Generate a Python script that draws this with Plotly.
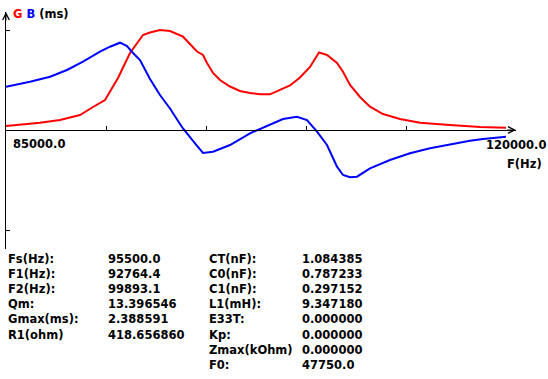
import plotly.graph_objects as go

# ---------------- data ----------------
G_FREQ_HZ = [85000, 85770, 87380, 88780, 90180, 91090, 91930, 92840, 93680, 94590,
             95080, 95780, 96480, 97390, 98090, 98370, 98790, 99070, 99490, 99980,
             100680, 101380, 102080, 102780, 103480, 104180, 104880, 105580, 106280, 106910,
             107470, 108170, 108590, 109080, 109780, 110480, 111390, 112580, 113980, 116080,
             118180, 120000]
G_MS = [0.0955, 0.1194, 0.1744, 0.2389, 0.3583, 0.5494, 0.7166, 1.2421, 1.8392, 2.2692,
        2.3289, 2.3886, 2.3647, 2.2286, 1.9586, 1.8750, 1.7914, 1.6004, 1.3615, 1.1943,
        1.0390, 0.9316, 0.8838, 0.8527, 0.8527, 0.9554, 1.0629, 1.2540, 1.5048, 1.8512,
        1.7914, 1.6004, 1.3926, 1.0749, 0.7882, 0.5565, 0.3822, 0.2627, 0.1744, 0.1194,
        0.0717, 0.0549]

B_FREQ_HZ = [85000, 86680, 88080, 89270, 90390, 91580, 92280, 92980, 93470, 93890,
             94380, 95080, 95780, 96480, 97180, 97390, 98230, 98790, 99490, 100680,
             102080, 103480, 104390, 105370, 106070, 106770, 107470, 107890, 108170, 108590,
             109080, 109570, 110480, 111880, 113280, 114680, 116080, 117480, 118390, 120000]
B_MS = [1.0343, 1.1537, 1.2731, 1.4332, 1.6314, 1.8703, 1.9897, 2.0852, 2.0064, 1.8392,
        1.6720, 1.2182, 0.8360, 0.5135, 0.1433, 0.0358, -0.3177, -0.5494, -0.5183, -0.3583,
        -0.0788, 0.1194, 0.2627, 0.3177, 0.2389, -0.0406, -0.3583, -0.6688, -0.8766, -1.0749,
        -1.1298, -1.1155, -0.9148, -0.7166, -0.5565, -0.4371, -0.3416, -0.2556, -0.2150, -0.1600]

X_TICKS_HZ = [92000, 99000, 106000, 113000]
X_MIN_LABEL = "85000.0"
X_MAX_LABEL = "120000.0"
X_TITLE = "F(Hz)"
GMAX = 2.388591

LEFT_LABELS = ["Fs(Hz):", "F1(Hz):", "F2(Hz):", "Qm:", "Gmax(ms):", "R1(ohm)"]
LEFT_VALUES = ["95500.0", "92764.4", "99893.1", "13.396546", "2.388591", "418.656860"]
RIGHT_LABELS = ["CT(nF):", "C0(nF):", "C1(nF):", "L1(mH):", "E33T:", "Kp:", "Zmax(kOhm)", "F0:"]
RIGHT_VALUES = ["1.084385", "0.787233", "0.297152", "9.347180", "0.000000", "0.000000",
                "0.000000", "47750.0"]

# ---------------- layout geometry ----------------
W, H = 548, 379
ML, MR, MT, MB = 6, 32, 12, 130
PW = W - ML - MR
PH = H - MT - MB
X0, X1 = 85000, 120700
AXIS_PY = 130  # pixel row of zero line
PX_PER_G = 100 / GMAX
Y_TOP = (AXIS_PY - MT) / PX_PER_G
Y_BOT = -((H - MB) - AXIS_PY) / PX_PER_G

FONT = "DejaVu Sans"
FS = 11.5


def px(xp):
    return (xp - ML) / PW


def py(yp):
    return ((H - MB) - yp) / PH


fig = go.Figure()
fig.add_trace(go.Scatter(x=G_FREQ_HZ, y=G_MS, mode="lines",
                         line=dict(color="#ff0000", width=2), name="G", cliponaxis=False))
fig.add_trace(go.Scatter(x=B_FREQ_HZ, y=B_MS, mode="lines",
                         line=dict(color="#0000ff", width=2), name="B", cliponaxis=False))

ann = []
tf = dict(family=FONT, size=FS, color="black", weight="bold")

# title of y axis
ann.append(dict(xref="paper", yref="paper", x=px(11), y=py(14), xanchor="left", yanchor="middle",
                text="<span style='color:#ff0000'>G</span> <span style='color:#0000ff'>B</span> (ms)",
                showarrow=False, font=tf))
# x labels
ann.append(dict(xref="paper", yref="paper", x=px(11), y=py(144), xanchor="left", yanchor="middle",
                text=X_MIN_LABEL, showarrow=False, font=tf))
ann.append(dict(xref="paper", yref="paper", x=px(548), y=py(145), xanchor="right", yanchor="middle",
                text=X_MAX_LABEL, showarrow=False, font=tf))
ann.append(dict(xref="paper", yref="paper", x=px(505), y=py(164), xanchor="left", yanchor="middle",
                text=X_TITLE, showarrow=False, font=tf))
# axis arrows
ann.append(dict(x=X1, y=0, xref="x", yref="y", ax=-10, ay=0, text="", showarrow=True,
                arrowhead=5, arrowsize=1.3, arrowwidth=1, arrowcolor="black"))
ann.append(dict(x=X0, y=Y_TOP, xref="x", yref="y", ax=0, ay=10, text="", showarrow=True,
                arrowhead=5, arrowsize=1.3, arrowwidth=1, arrowcolor="black"))

# parameter table
for i, (l, v) in enumerate(zip(LEFT_LABELS, LEFT_VALUES)):
    yy = py(259 + i * 15.1)
    ann.append(dict(xref="paper", yref="paper", x=px(6), y=yy, xanchor="left", yanchor="middle",
                    text=l, showarrow=False, font=tf))
    ann.append(dict(xref="paper", yref="paper", x=px(106), y=yy, xanchor="left", yanchor="middle",
                    text=v, showarrow=False, font=tf))
for i, (l, v) in enumerate(zip(RIGHT_LABELS, RIGHT_VALUES)):
    yy = py(259 + i * 15.1)
    ann.append(dict(xref="paper", yref="paper", x=px(207), y=yy, xanchor="left", yanchor="middle",
                    text=l, showarrow=False, font=tf))
    ann.append(dict(xref="paper", yref="paper", x=px(300), y=yy, xanchor="left", yanchor="middle",
                    text=v, showarrow=False, font=tf))

fig.update_layout(
    width=W, height=H, autosize=False,
    margin=dict(l=ML, r=MR, t=MT, b=MB, pad=0),
    paper_bgcolor="white", plot_bgcolor="white",
    showlegend=False,
    annotations=ann,
    xaxis=dict(range=[X0, X1], showgrid=False, zeroline=False, showline=True,
               linecolor="black", linewidth=1, anchor="free",
               position=(0 - Y_BOT) / (Y_TOP - Y_BOT),
               tickmode="array", tickvals=X_TICKS_HZ, ticks="inside", ticklen=4,
               tickcolor="black", tickwidth=1, showticklabels=False),
    yaxis=dict(range=[Y_BOT, Y_TOP], showgrid=False, zeroline=False, showline=True,
               linecolor="black", linewidth=1,
               tickmode="array", tickvals=[GMAX, -GMAX], ticks="inside", ticklen=4,
               tickcolor="black", tickwidth=1, showticklabels=False),
)

fig.write_html("out.html", config={"displayModeBar": False},
               post_script="document.body.style.margin='0';document.body.style.overflow='hidden';")
